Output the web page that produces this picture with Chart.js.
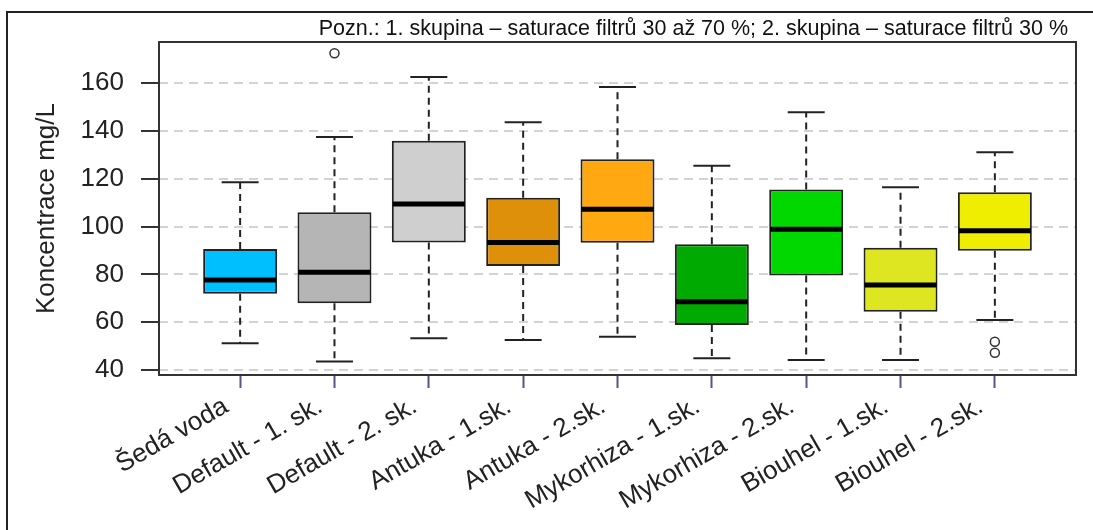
<!DOCTYPE html>
<html>
<head>
<meta charset="utf-8">
<title>Koncentrace mg/L</title>
<script src="https://cdn.jsdelivr.net/npm/chart.js@4.4.1/dist/chart.umd.min.js"></script>
<style>
    html, body { margin: 0; padding: 0; background: #fff; }
    canvas { display: block; }
</style>
</head>
<body>
<canvas id="boxChart" width="1093" height="530"></canvas>
<script>
const categories = [
    "Šedá voda", "Default - 1. sk.", "Default - 2. sk.", "Antuka - 1.sk.", "Antuka - 2.sk.",
    "Mykorhiza - 1.sk.", "Mykorhiza - 2.sk.", "Biouhel - 1.sk.", "Biouhel - 2.sk."
]
const whiskerLow = [51.2, 43.5, 53.3, 52.6, 53.9, 44.9, 44.2, 44.2, 60.9]
const q1 = [71.9, 67.9, 93.4, 83.5, 93.3, 58.8, 79.6, 64.4, 89.9]
const median = [77.7, 80.9, 109.5, 93.4, 107.3, 68.6, 98.9, 75.6, 98.3]
const q3 = [90.6, 106.0, 136.0, 112.1, 128.2, 92.6, 115.6, 91.2, 114.4]
const whiskerHigh = [118.6, 137.5, 162.6, 143.7, 158.5, 125.5, 147.9, 116.5, 131.1]
const outlierGroup = [2, 9, 9]
const outlierValue = [172.6, 51.8, 47.2]
const yTicks = [40, 60, 80, 100, 120, 140, 160]
const boxColors = ["#00bfff", "#b5b5b5", "#cfcfcf", "#df900b", "#ffa812",
    "#00aa00", "#00d800", "#dde620", "#f0ee00"]
const note = "Pozn.: 1. skupina – saturace filtrů 30 až 70 %; 2. skupina – saturace filtrů 30 %"

const positions = categories.map((_, i) => i + 1)

Chart.defaults.font.family = '"Liberation Sans", Arial, sans-serif'
Chart.defaults.color = "#222"

// whiskers, caps and medians on top of the floating bars
const boxLines = {
    id: "boxLines",
    afterDatasetsDraw(chart) {
        const ctx = chart.ctx
        const y = chart.scales.y
        const bars = chart.getDatasetMeta(0).data
        ctx.save()
        ctx.strokeStyle = "#222"
        bars.forEach((bar, i) => {
            const cx = bar.x
            const half = bar.width / 2
            const line = (x1, y1, x2, y2) => {
                ctx.beginPath()
                ctx.moveTo(x1, y1)
                ctx.lineTo(x2, y2)
                ctx.stroke()
            }
            ctx.lineWidth = 2
            ctx.setLineDash([7, 5])
            line(cx, y.getPixelForValue(q3[i]), cx, y.getPixelForValue(whiskerHigh[i]))
            line(cx, y.getPixelForValue(q1[i]), cx, y.getPixelForValue(whiskerLow[i]))
            ctx.setLineDash([])
            line(cx - half / 2, y.getPixelForValue(whiskerHigh[i]), cx + half / 2, y.getPixelForValue(whiskerHigh[i]))
            line(cx - half / 2, y.getPixelForValue(whiskerLow[i]), cx + half / 2, y.getPixelForValue(whiskerLow[i]))
            ctx.strokeStyle = "#000"
            ctx.lineWidth = 5
            line(cx - half + 1, y.getPixelForValue(median[i]), cx + half - 1, y.getPixelForValue(median[i]))
            ctx.strokeStyle = "#222"
        })
        ctx.restore()
    }
}

const frame = {
    id: "frame",
    beforeDraw(chart) {
        const ctx = chart.ctx
        ctx.save()
        ctx.strokeStyle = "#222"
        ctx.lineWidth = 2
        ctx.beginPath()
        ctx.moveTo(7, chart.height)
        ctx.lineTo(7, 12)
        ctx.lineTo(chart.width, 12)
        ctx.stroke()
        ctx.restore()
    },
    afterDraw(chart) {
        const ctx = chart.ctx
        const a = chart.chartArea
        ctx.save()
        ctx.strokeStyle = "#333"
        ctx.lineWidth = 2
        ctx.strokeRect(a.left, a.top, a.right - a.left, a.bottom - a.top)
        ctx.font = '21.5px "Liberation Sans", Arial, sans-serif'
        ctx.fillStyle = "#111"
        ctx.textAlign = "right"
        ctx.textBaseline = "alphabetic"
        ctx.fillText(note, a.right - 8, a.top - 7)
        ctx.restore()
    }
}

const boxChart = new Chart(
    document.getElementById("boxChart"), {
    data: {
        datasets: [
            {
                type: "bar",
                data: positions.map((p, i) => ({ x: p, y: [q1[i], q3[i]] })),
                backgroundColor: boxColors,
                borderColor: "#222",
                borderWidth: 2,
                borderSkipped: false,
                categoryPercentage: 0.8,
                barPercentage: 0.98
            },
            {
                type: "scatter",
                data: outlierGroup.map((g, i) => ({ x: g, y: outlierValue[i] })),
                pointRadius: 4.5,
                pointBorderWidth: 1.5,
                pointBorderColor: "#333",
                pointBackgroundColor: "rgba(0,0,0,0)"
            }
        ]
    },
    options: {
        responsive: false,
        animation: false,
        devicePixelRatio: 1,
        layout: { padding: { top: 42, right: 17, left: 0, bottom: 0 } },
        plugins: { legend: { display: false }, tooltip: { enabled: false } },
        scales: {
            x: {
                type: "linear",
                min: 0.14,
                max: 9.86,
                offset: false,
                afterBuildTicks: axis => { axis.ticks = positions.map(v => ({ value: v })) },
                afterFit: axis => { axis.height = 155 },
                ticks: {
                    autoSkip: false,
                    minRotation: 30,
                    maxRotation: 30,
                    padding: 3,
                    labelOffset: -14,
                    font: { size: 26 },
                    color: "#222",
                    callback: value => categories[value - 1]
                },
                grid: {
                    offset: false,
                    drawOnChartArea: false,
                    tickLength: 13,
                    tickWidth: 2,
                    tickColor: "#55558a"
                },
                border: { display: false }
            },
            y: {
                type: "linear",
                min: 37.9,
                max: 177.3,
                afterBuildTicks: axis => { axis.ticks = yTicks.map(v => ({ value: v })) },
                afterFit: axis => { axis.width = 159 },
                ticks: { padding: 17, font: { size: 26 }, color: "#222" },
                grid: {
                    color: "#d3d3d3",
                    lineWidth: 2,
                    tickLength: 18,
                    tickWidth: 2,
                    tickColor: "#333",
                    tickBorderDash: []
                },
                border: { display: false, dash: [9, 6] },
                title: {
                    display: true,
                    text: "Koncentrace mg/L",
                    font: { size: 26 },
                    color: "#222",
                    padding: { top: 31, bottom: 0 }
                }
            }
        }
    },
    plugins: [boxLines, frame]
})
</script>
</body>
</html>
